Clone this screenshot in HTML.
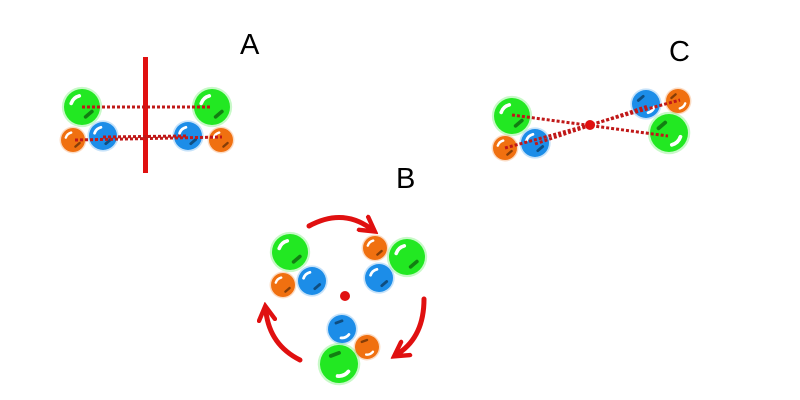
<!DOCTYPE html>
<html><head><style>body{margin:0;background:#fff}svg{display:block}</style></head><body>
<svg width="800" height="400" viewBox="0 0 800 400" xmlns="http://www.w3.org/2000/svg">
<defs>
<g id="b"><circle r="1.12" fill="currentColor" opacity="0.25"/><circle r="1" fill="currentColor"/>
<path d="M-0.6,-0.2 A0.65,0.65 0 0 1 -0.15,-0.62" stroke="#fff" stroke-width="0.2" fill="none" stroke-linecap="round"/>
<path d="M0.55,0.25 L0.2,0.55" stroke="#000" stroke-opacity="0.45" stroke-width="0.2" fill="none" stroke-linecap="round"/></g>
<marker id="ah" viewBox="0 0 10 10" refX="5" refY="5" markerWidth="4" markerHeight="4" orient="auto"><path d="M1,1 L8,5 L1,9" fill="none" stroke="#e01010" stroke-width="2.2" stroke-linecap="round"/></marker>
</defs>
<g font-family="Liberation Sans, sans-serif" font-size="29" fill="#000">
<text x="240" y="54">A</text><text x="396" y="188">B</text><text x="669" y="61">C</text></g>

<!-- A -->
<rect x="143" y="57" width="5" height="116" fill="#e01010"/>
<use href="#b" transform="translate(82,107) scale(18)" color="#22e822"/>
<use href="#b" transform="translate(73,140) scale(12)" color="#f07010"/>
<use href="#b" transform="translate(103,136) scale(14)" color="#1c8de8"/>
<use href="#b" transform="translate(212,107) scale(18)" color="#22e822"/>
<use href="#b" transform="translate(188,136) scale(14)" color="#1c8de8"/>
<use href="#b" transform="translate(221,140) scale(12)" color="#f07010"/>
<g stroke="#c01818" stroke-width="3" stroke-dasharray="3,2" fill="none">
<line x1="82" y1="107" x2="210" y2="107"/>
<line x1="75" y1="140" x2="222" y2="137"/>
<line x1="103" y1="137" x2="188" y2="136"/>
</g>

<!-- B -->
<g stroke="#e01010" stroke-width="5" fill="none" stroke-linecap="round" marker-end="url(#ah)">
<path d="M309,226 Q342,208 370,228"/>
<path d="M424,299 Q424,336 399,353"/>
<path d="M300,360 Q270,345 266,312"/>
</g>
<use href="#b" transform="translate(290,252) scale(18)" color="#22e822"/>
<use href="#b" transform="translate(283,285) scale(12)" color="#f07010"/>
<use href="#b" transform="translate(312,281) scale(14)" color="#1c8de8"/>
<use href="#b" transform="translate(375,248) scale(12)" color="#f07010"/>
<use href="#b" transform="translate(407,257) scale(18)" color="#22e822"/>
<use href="#b" transform="translate(379,278) scale(14)" color="#1c8de8"/>
<circle cx="345" cy="296" r="5" fill="#e01010"/>
<use href="#b" transform="translate(342,329) scale(14) rotate(200)" color="#1c8de8"/>
<use href="#b" transform="translate(367,347) scale(12) rotate(200)" color="#f07010"/>
<use href="#b" transform="translate(339,364) scale(19) rotate(200)" color="#22e822"/>

<!-- C -->
<use href="#b" transform="translate(512,116) scale(18)" color="#22e822"/>
<use href="#b" transform="translate(505,148) scale(12)" color="#f07010"/>
<use href="#b" transform="translate(535,143) scale(14)" color="#1c8de8"/>
<use href="#b" transform="translate(646,104) scale(14) rotate(180)" color="#1c8de8"/>
<use href="#b" transform="translate(678,101) scale(12) rotate(180)" color="#f07010"/>
<use href="#b" transform="translate(669,133) scale(19) rotate(180)" color="#22e822"/>
<g stroke="#c01818" stroke-width="3" stroke-dasharray="3,2" fill="none">
<line x1="512" y1="115" x2="668" y2="136"/>
<line x1="505" y1="148" x2="680" y2="100"/>
<line x1="535" y1="144" x2="648" y2="106"/>
</g>
<circle cx="590" cy="125" r="5" fill="#e01010"/>
</svg>
</body></html>
